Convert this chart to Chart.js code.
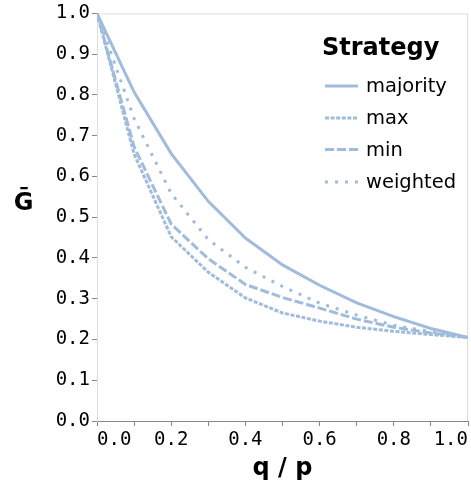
<!DOCTYPE html>
<html>
<head>
<meta charset="utf-8">
<script src="https://cdn.jsdelivr.net/npm/chart.js@4.4.1/dist/chart.umd.min.js"></script>
<style>
html,body{margin:0;padding:0;background:#fff;}
canvas{display:block;}
</style>
</head>
<body>
<canvas id="c" width="471" height="483"></canvas>
<script>
const qOverP = [0.0, 0.1, 0.2, 0.3, 0.4, 0.5, 0.6, 0.7, 0.8, 0.9, 1.0];
const majority = [1.0, 0.807, 0.656, 0.539, 0.449, 0.383, 0.333, 0.290, 0.256, 0.227, 0.205];
const maxS     = [1.0, 0.655, 0.452, 0.365, 0.302, 0.265, 0.245, 0.230, 0.220, 0.212, 0.205];
const minS     = [1.0, 0.673, 0.483, 0.398, 0.335, 0.303, 0.277, 0.250, 0.230, 0.216, 0.205];
const weighted = [1.0, 0.742, 0.558, 0.445, 0.377, 0.330, 0.289, 0.260, 0.235, 0.219, 0.205];
const seriesNames = ['majority', 'max', 'min', 'weighted'];
const yTicks = [0.0, 0.1, 0.2, 0.3, 0.4, 0.5, 0.6, 0.7, 0.8, 0.9, 1.0];
const xLabelTicks = ['0.0', '0.2', '0.4', '0.6', '0.8', '1.0'];

const COLOR = 'rgb(160,188,220)';
const dashes = [[], [4, 1.6], [9, 3], [3, 7]];
const seriesValues = [majority, maxS, minS, weighted];

const datasets = seriesNames.map((name, i) => ({
  label: name,
  data: qOverP.map((x, j) => ({x: x, y: seriesValues[i][j]})),
  borderColor: COLOR,
  backgroundColor: COLOR,
  borderWidth: 3,
  borderDash: dashes[i],
  borderCapStyle: 'butt',
  pointRadius: 0,
  tension: 0,
  fill: false
}));

const extras = {
  id: 'extras',
  beforeDatasetsDraw(chart) {
    const {ctx, chartArea: a} = chart;
    ctx.save();
    ctx.strokeStyle = '#ddd';
    ctx.lineWidth = 1;
    ctx.beginPath();
    ctx.moveTo(a.left, a.top + 0.5);
    ctx.lineTo(a.right - 0.5, a.top + 0.5);
    ctx.lineTo(a.right - 0.5, a.bottom);
    ctx.stroke();
    ctx.restore();
  },
  afterDraw(chart) {
    const ctx = chart.ctx;
    ctx.save();
    // y-axis title (horizontal)
    ctx.fillStyle = '#000';
    ctx.font = 'bold 24px "DejaVu Sans"';
    ctx.textAlign = 'center';
    ctx.textBaseline = 'middle';
    ctx.fillText('\u1E20', 23.5, 204);
    // legend
    ctx.textAlign = 'left';
    ctx.textBaseline = 'alphabetic';
    ctx.font = 'bold 24px "DejaVu Sans"';
    ctx.fillText('Strategy', 322, 55);
    ctx.font = '19.5px "DejaVu Sans"';
    ctx.textBaseline = 'middle';
    const ys = [86, 118, 149.5, 182];
    seriesNames.forEach((n, i) => {
      ctx.strokeStyle = COLOR;
      ctx.lineWidth = 3;
      ctx.lineCap = 'butt';
      ctx.setLineDash(dashes[i]);
      ctx.beginPath();
      ctx.moveTo(325, ys[i]);
      ctx.lineTo(358, ys[i]);
      ctx.stroke();
      ctx.setLineDash([]);
      ctx.fillStyle = '#000';
      ctx.fillText(n, 366, ys[i] + 1);
    });
    ctx.restore();
  }
};

new Chart(document.getElementById('c'), {
  type: 'line',
  data: {datasets},
  plugins: [extras],
  options: {
    responsive: false,
    animation: false,
    devicePixelRatio: 1,
    layout: {padding: {top: 13, right: 2, left: 0, bottom: 0}},
    plugins: {legend: {display: false}, tooltip: {enabled: false}},
    scales: {
      x: {
        type: 'linear',
        min: 0, max: 1,
        afterFit(s) { s.height = 62; },
        afterBuildTicks(s) { s.ticks = qOverP.map(v => ({value: v})); },
        ticks: {
          autoSkip: false, maxRotation: 0, align: 'inner',
          color: '#000', padding: 3,
          font: {family: '"DejaVu Sans Mono"', size: 19},
          callback(v) {
            const s = v.toFixed(1);
            return xLabelTicks.includes(s) ? s : '';
          }
        },
        grid: {drawOnChartArea: false, drawTicks: true, tickLength: 5, tickColor: '#888'},
        border: {display: true, color: '#888', width: 1},
        title: {display: true, text: 'q / p', color: '#000',
          font: {family: '"DejaVu Sans"', size: 24, weight: 'bold'}, padding: {top: 0, bottom: 0}}
      },
      y: {
        min: 0, max: 1,
        afterFit(s) { s.width = 97; },
        afterBuildTicks(s) { s.ticks = yTicks.map(v => ({value: v})); },
        ticks: {
          color: '#000', padding: 2,
          font: {family: '"DejaVu Sans Mono"', size: 19},
          callback(v) { return v.toFixed(1); }
        },
        grid: {drawOnChartArea: false, drawTicks: true, tickLength: 5, tickColor: '#888'},
        border: {display: true, color: '#ddd', width: 1}
      }
    }
  }
});
</script>
</body>
</html>
